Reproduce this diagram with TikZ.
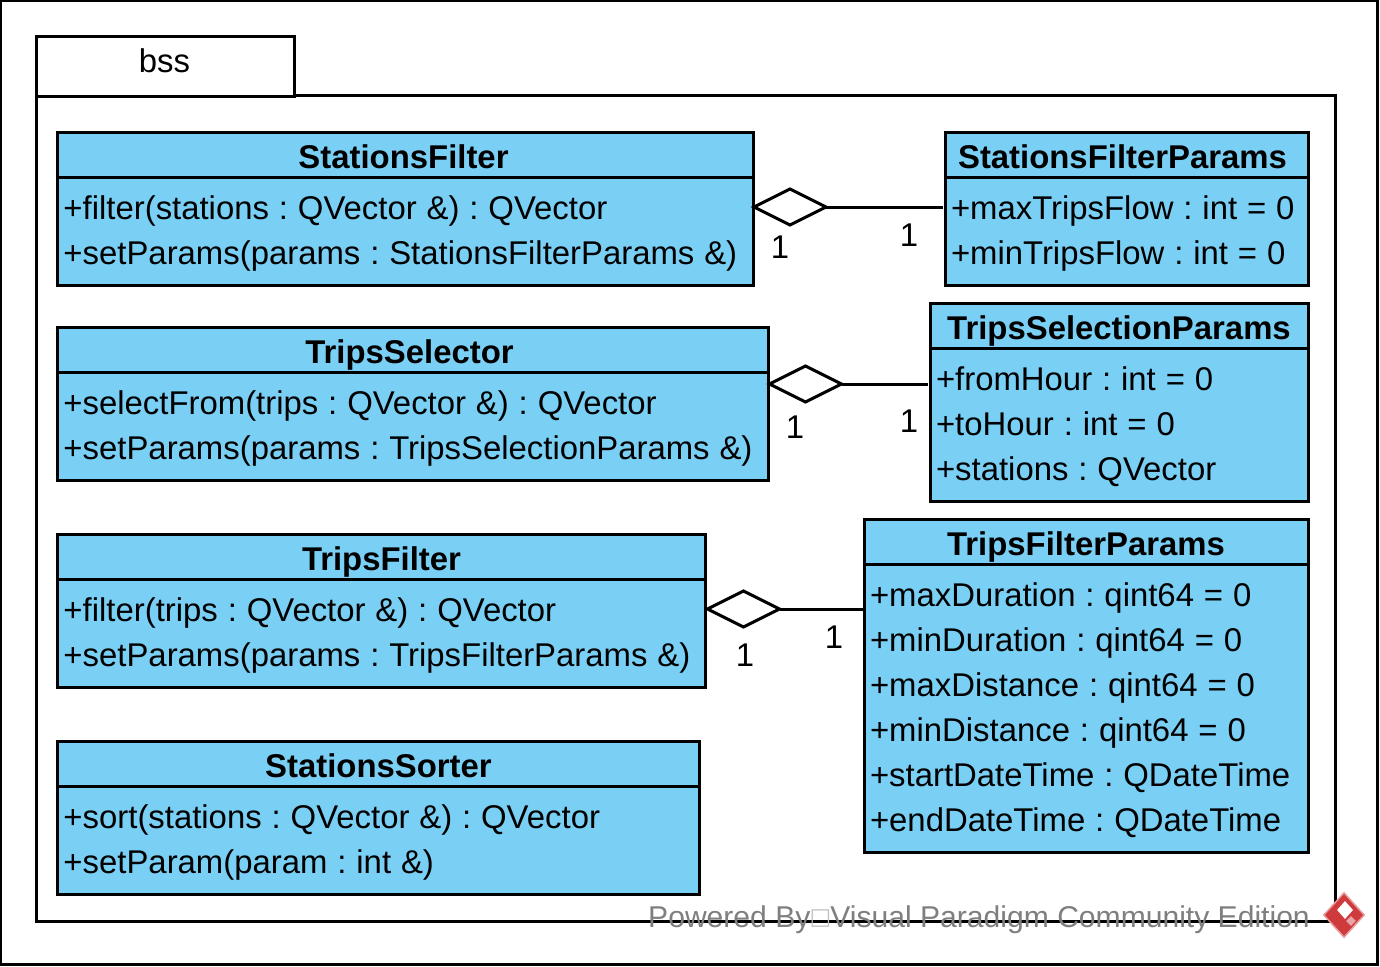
\documentclass[tikz,border=0pt]{standalone}
\usepackage{fontspec}
\setmainfont{Liberation Sans}
\newfontfamily\boxfont{DejaVu Sans}
\usetikzlibrary{shapes.geometric}
\definecolor{classblue}{HTML}{7ACFF5}
\definecolor{markgrey}{HTML}{7F7F7F}
\definecolor{logored}{HTML}{CF3A3C}
\newcommand{\umlfont}{\fontsize{33}{45}\selectfont\frenchspacing}
\tikzstyle{frame} = [rectangle, draw=black, line width=3bp, outer sep=0pt, inner sep=0pt]
\tikzstyle{classtitle} = [frame, fill=classblue, minimum height=45bp, text height=27bp, text depth=0pt, font=\umlfont\bfseries]
\tikzstyle{classbody} = [frame, fill=classblue, align=left, inner xsep=6bp, font=\umlfont,
    execute at begin node={\spaceskip=9.9bp\rule{0pt}{29bp}}, execute at end node={\rule[-7bp]{0pt}{7bp}}]
\tikzstyle{aggr} = [diamond, draw=black, fill=white, line width=3bp, outer sep=0pt, inner sep=0pt, minimum width=72bp, minimum height=36bp]
\tikzstyle{assoc} = [line width=3bp]
\tikzstyle{mult} = [font=\umlfont, inner sep=0pt]

\begin{document}
\begin{tikzpicture}[x=1bp,y=-1bp]
        \useasboundingbox (0,0) rectangle (1380,966);

        \node (page) [frame, fill=white, minimum width=1377bp, minimum height=963bp] at (689,482.5) {};

        % package
        \node (pkgbody) [frame, fill=white, minimum width=1299bp, minimum height=825bp] at (686,508.5) {};
        \node (pkgtab) [frame, fill=white, minimum width=258bp, minimum height=60bp, text height=24bp, text depth=12bp, font=\umlfont] at (165.5,66) {\hspace*{-2bp}bss};

        % left column
        \node (sf) [classtitle, minimum width=696bp] at (405.5,154.5) {\hspace*{-4bp}StationsFilter};
        \node (sfbody) [classbody, minimum height=108bp, text width=684bp, below of=sf, node distance=76.5bp]
            {+filter(stations : QVector \&) : QVector\\
             +setParams(params : StationsFilterParams \&)};

        \node (ts) [classtitle, minimum width=711bp] at (413,349.5) {\hspace*{-7bp}TripsSelector};
        \node (tsbody) [classbody, minimum height=108bp, text width=699bp, below of=ts, node distance=76.5bp]
            {+selectFrom(trips : QVector \&) : QVector\\
             +setParams(params : TripsSelectionParams \&)};

        \node (tf) [classtitle, minimum width=648bp] at (381.5,556.5) {TripsFilter};
        \node (tfbody) [classbody, minimum height=108bp, text width=636bp, below of=tf, node distance=76.5bp]
            {+filter(trips : QVector \&) : QVector\\
             +setParams(params : TripsFilterParams \&)};

        \node (ss) [classtitle, minimum width=642bp] at (378.5,763.5) {StationsSorter};
        \node (ssbody) [classbody, minimum height=108bp, text width=630bp, below of=ss, node distance=76.5bp]
            {+sort(stations : QVector \&) : QVector\\
             +setParam(param : int \&)};

        % right column
        \node (sfp) [classtitle, minimum width=363bp] at (1126.5,154.5) {\hspace*{-8bp}StationsFilterParams};
        \node (sfpbody) [classbody, minimum height=108bp, text width=351bp, below of=sfp, node distance=76.5bp]
            {+maxTripsFlow : int = 0\\
             +minTripsFlow : int = 0};

        \node (tsp) [classtitle, minimum width=378bp] at (1119,325.5) {TripsSelectionParams};
        \node (tspbody) [classbody, minimum height=153bp, text width=366bp, below of=tsp, node distance=99bp]
            {+fromHour : int = 0\\
             +toHour : int = 0\\
             +stations : QVector};

        \node (tfp) [classtitle, minimum width=444bp] at (1086,541.5) {TripsFilterParams};
        \node (tfpbody) [classbody, minimum height=288bp, text width=432bp, below of=tfp, node distance=166.5bp]
            {+maxDuration : qint64 = 0\\
             +minDuration : qint64 = 0\\
             +maxDistance : qint64 = 0\\
             +minDistance : qint64 = 0\\
             +startDateTime : QDateTime\\
             +endDateTime : QDateTime};

        % aggregations
        \node (dia1) [aggr] at (790,207) {};
        \node (dia2) [aggr] at (805.5,384) {};
        \node (dia3) [aggr] at (743.5,609) {};

        \draw [assoc, shorten >=2.5bp] (dia1.east) -- (dia1.east -| sfpbody.west) ;
        \draw [assoc, shorten >=2.5bp] (dia2.east) -- (dia2.east -| tspbody.west) ;
        \draw [assoc] (dia3.east) -- (dia3.east -| tfpbody.west) ;

        \node (m1a) [mult] at (780,247) {1};
        \node (m1b) [mult] at (909,235) {1};
        \node (m2a) [mult] at (795,427) {1};
        \node (m2b) [mult] at (909,421) {1};
        \node (m3a) [mult] at (745,655) {1};
        \node (m3b) [mult] at (834,637) {1};

        % watermark
        \node (mark) [anchor=base west, inner sep=0pt, text=markgrey, font=\fontsize{30.2}{30}\selectfont]
            at (648,927) {Powered By\makebox[20bp]{\raisebox{3bp}{\color{black!25}\fontsize{23}{30}\boxfont\char"25A1}}Visual Paradigm Community Edition};
        \node (logo) [diamond, fill=logored, draw=logored!50, line width=1.5bp, inner sep=0pt, minimum width=41bp, minimum height=45bp] at (1344,915) {};
        \node (logohole) [diamond, fill=white, inner sep=0pt, minimum width=16bp, minimum height=18bp] at (1345,910) {};
        \node (logotail) [diamond, fill=logored!45, inner sep=0pt, minimum width=10bp, minimum height=10bp] at (1351,921) {};
\end{tikzpicture}
\end{document}
